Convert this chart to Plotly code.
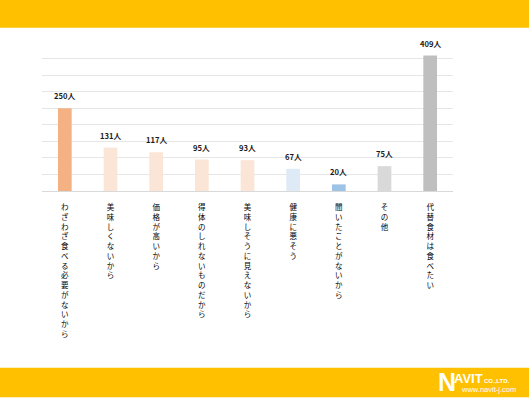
import plotly.graph_objects as go

categories = ["わざわざ食べる必要がないから", "美味しくないから", "価格が高いから", "得体のしれないものだから",
              "美味しそうに見えないから", "健康に悪そう", "聞いたことがないから", "その他", "代替食材は食べたい"]
values = [250, 131, 117, 95, 93, 67, 20, 75, 409]
colors = ["#F4B183", "#FBE5D6", "#FBE5D6", "#FBE5D6", "#FBE5D6", "#DEEBF7", "#9DC3E6", "#D9D9D9", "#BFBFBF"]
unit = "人"

W, H = 529, 399
L, R, T, B = 42, 453, 42.3, 191.3

def px_x(p):
    return (p - L) / (R - L)

def px_y(p):
    return (B - p) / (B - T)

FONT = "Noto Sans CJK JP"

fig = go.Figure()
fig.add_trace(go.Bar(
    x=categories, y=values, marker=dict(color=colors, line=dict(width=0)),
    width=0.3, hoverinfo="skip",
))

ann = []
for c, v in zip(categories, values):
    ann.append(dict(x=c, y=v, xref="x", yref="y", text=f"<b>{v}{unit}</b>", showarrow=False,
                    yanchor="bottom", yshift=5, font=dict(family=FONT, size=7.6, color="#1a1a1a")))

# logo
ann.append(dict(x=px_x(436), y=px_y(382), xref="paper", yref="paper", text="<b>N</b>",
                showarrow=False, xanchor="left", yanchor="middle",
                font=dict(family="Liberation Sans", size=25, color="white")))
ann.append(dict(x=px_x(452), y=px_y(379), xref="paper", yref="paper", text="<b>AVIT</b>",
                showarrow=False, xanchor="left", yanchor="middle",
                font=dict(family="Liberation Sans", size=13, color="white")))
ann.append(dict(x=px_x(482), y=px_y(381), xref="paper", yref="paper", text="<b>CO.,LTD.</b>",
                showarrow=False, xanchor="left", yanchor="middle",
                font=dict(family="Liberation Sans", size=6, color="white")))
ann.append(dict(x=px_x(459), y=px_y(389.5), xref="paper", yref="paper", text="www.navit-j.com",
                showarrow=False, xanchor="left", yanchor="middle",
                font=dict(family="Liberation Sans", size=7.5, color="white")))

shapes = [
    dict(type="rect", xref="paper", yref="paper", x0=px_x(0), x1=px_x(W), y0=px_y(0), y1=px_y(28),
         fillcolor="#FFC000", line=dict(width=0), layer="below"),
    dict(type="rect", xref="paper", yref="paper", x0=px_x(0), x1=px_x(W), y0=px_y(368), y1=px_y(397.5),
         fillcolor="#FFC000", line=dict(width=0), layer="below"),
]

ticktext = ["<br>".join(list(c)) for c in categories]

fig.update_layout(
    width=W, height=H,
    margin=dict(l=L, r=W - R, t=T, b=H - B, pad=0),
    paper_bgcolor="white", plot_bgcolor="white",
    showlegend=False,
    annotations=ann, shapes=shapes,
    xaxis=dict(tickmode="array", tickvals=categories, ticktext=ticktext, tickangle=0,
               showline=True, linecolor="#D9D9D9", linewidth=1.2, ticks="", showgrid=False,
               ticklabelstandoff=9,
               tickfont=dict(family=FONT, size=7.5, color="#000000")),
    yaxis=dict(range=[0, 450], dtick=50, showgrid=True, gridcolor="#E6E6E6", gridwidth=1,
               showticklabels=False, zeroline=False, ticks=""),
)

fig.write_html("out.html", config={"displayModeBar": False, "staticPlot": True},
               post_script="document.body.style.margin='0';document.body.style.overflow='hidden';")
